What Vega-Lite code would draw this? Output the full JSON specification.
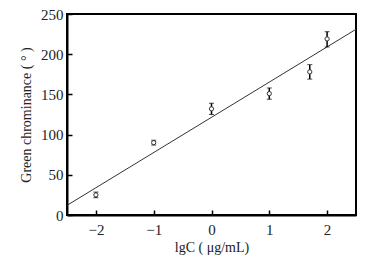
{
  "$schema": "https://vega.github.io/schema/vega-lite/v6.json",
  "autosize": "none",
  "width": 289,
  "height": 201,
  "padding": {"left": 67, "top": 14, "right": 13, "bottom": 43},
  "background": "white",
  "config": {
    "view": {"stroke": "black", "strokeWidth": 2},
    "font": "Liberation Serif",
    "axis": {
      "grid": false,
      "domainColor": "black",
      "domainWidth": 2,
      "tickColor": "black",
      "tickWidth": 1.5,
      "tickSize": -5,
      "labelFont": "Liberation Serif",
      "labelFontSize": 15,
      "labelColor": "#222",
      "titleFont": "Liberation Serif",
      "titleFontSize": 14,
      "titleFontWeight": "normal",
      "titleColor": "#222"
    }
  },
  "datasets": {
    "pts": [
      {"x": -2, "y": 25, "lo": 21.5, "hi": 28.5},
      {"x": -1, "y": 90, "lo": 87, "hi": 93},
      {"x": 0, "y": 132, "lo": 125, "hi": 139},
      {"x": 1, "y": 151, "lo": 144, "hi": 158},
      {"x": 1.7, "y": 178, "lo": 169, "hi": 187},
      {"x": 2, "y": 219, "lo": 209, "hi": 228}
    ],
    "fit": [
      {"x": -2.5, "y": 12},
      {"x": 2.5, "y": 231}
    ]
  },
  "layer": [
    {
      "data": {"name": "fit"},
      "mark": {"type": "line", "color": "#333", "strokeWidth": 1},
      "encoding": {
        "x": {"field": "x", "type": "quantitative", "scale": {"domain": [-2.5, 2.5], "nice": false},
          "axis": {"values": [-2, -1, 0, 1, 2], "format": "d", "title": "lgC ( μg/mL)", "labelPadding": 12, "titlePadding": 3}},
        "y": {"field": "y", "type": "quantitative", "scale": {"domain": [0, 250], "nice": false},
          "axis": {"values": [0, 50, 100, 150, 200, 250], "format": "d", "title": "Green  chrominance ( ° )", "labelPadding": 9, "titlePadding": 7}}
      }
    },
    {
      "data": {"name": "pts"},
      "mark": {"type": "errorbar", "ticks": {"size": 5, "color": "black", "strokeWidth": 1.5}, "rule": {"strokeWidth": 1.5, "color": "black"}},
      "encoding": {
        "x": {"field": "x", "type": "quantitative", "title": "lgC ( μg/mL)"},
        "y": {"field": "lo", "type": "quantitative", "title": "Green  chrominance ( ° )"},
        "y2": {"field": "hi"}
      }
    },
    {
      "data": {"name": "pts"},
      "mark": {"type": "point", "shape": "circle", "size": 18, "filled": true, "fill": "white", "stroke": "#333", "strokeWidth": 1, "opacity": 1},
      "encoding": {
        "x": {"field": "x", "type": "quantitative", "title": "lgC ( μg/mL)"},
        "y": {"field": "y", "type": "quantitative", "title": "Green  chrominance ( ° )"}
      }
    }
  ]
}
